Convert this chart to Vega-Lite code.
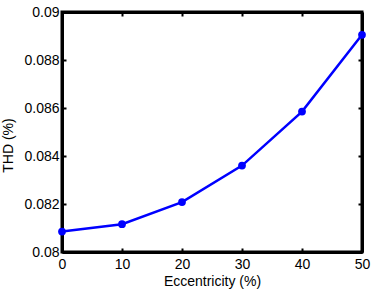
{
  "$schema": "https://vega.github.io/schema/vega-lite/v6.json",
  "width": 300,
  "height": 240,
  "autosize": "none",
  "padding": {"left": 62, "top": 12, "right": 12, "bottom": 38},
  "background": "white",
  "config": {
    "view": {"stroke": "black", "strokeWidth": 3},
    "font": "Liberation Sans",
    "axis": {
      "grid": false,
      "domainColor": "black",
      "domainWidth": 3,
      "tickColor": "black",
      "tickWidth": 2,
      "tickSize": -4,
      "labelColor": "black",
      "labelFontSize": 14,
      "labelFont": "Liberation Sans",
      "titleFont": "Liberation Sans",
      "titleFontSize": 14,
      "titleFontWeight": "normal",
      "titleColor": "black"
    }
  },
  "data": {"values": [
    {"ecc": 0, "thd": 0.08085},
    {"ecc": 10, "thd": 0.08116},
    {"ecc": 20, "thd": 0.08208},
    {"ecc": 30, "thd": 0.08360},
    {"ecc": 40, "thd": 0.08585},
    {"ecc": 50, "thd": 0.08905}
  ]},
  "layer": [
    {
      "mark": {"type": "line", "color": "#0000ff", "strokeWidth": 2.5, "point": {"filled": true, "color": "#0000ff", "size": 60}},
      "encoding": {
        "x": {"field": "ecc", "type": "quantitative", "scale": {"domain": [0, 50], "nice": false, "zero": false},
              "axis": {"orient": "bottom", "values": [0, 10, 20, 30, 40, 50], "title": "Eccentricity (%)", "labelPadding": 9, "titlePadding": 3, "labelFlush": false}},
        "y": {"field": "thd", "type": "quantitative", "scale": {"domain": [0.08, 0.09], "nice": false, "zero": false},
              "axis": {"orient": "left", "values": [0.08, 0.082, 0.084, 0.086, 0.088, 0.09], "format": ".3~f", "title": "THD (%)", "labelPadding": 7, "titlePadding": 8, "titleY": 133, "labelFlush": false}}
      }
    },
    {
      "mark": {"type": "line", "opacity": 0},
      "encoding": {
        "x": {"field": "ecc", "type": "quantitative", "scale": {"domain": [0, 50], "nice": false, "zero": false},
              "axis": {"orient": "top", "values": [0, 10, 20, 30, 40, 50], "labels": false, "title": null}},
        "y": {"field": "thd", "type": "quantitative", "scale": {"domain": [0.08, 0.09], "nice": false, "zero": false},
              "axis": {"orient": "right", "values": [0.08, 0.082, 0.084, 0.086, 0.088, 0.09], "labels": false, "title": null}}
      }
    }
  ],
  "resolve": {"axis": {"x": "independent", "y": "independent"}}
}
